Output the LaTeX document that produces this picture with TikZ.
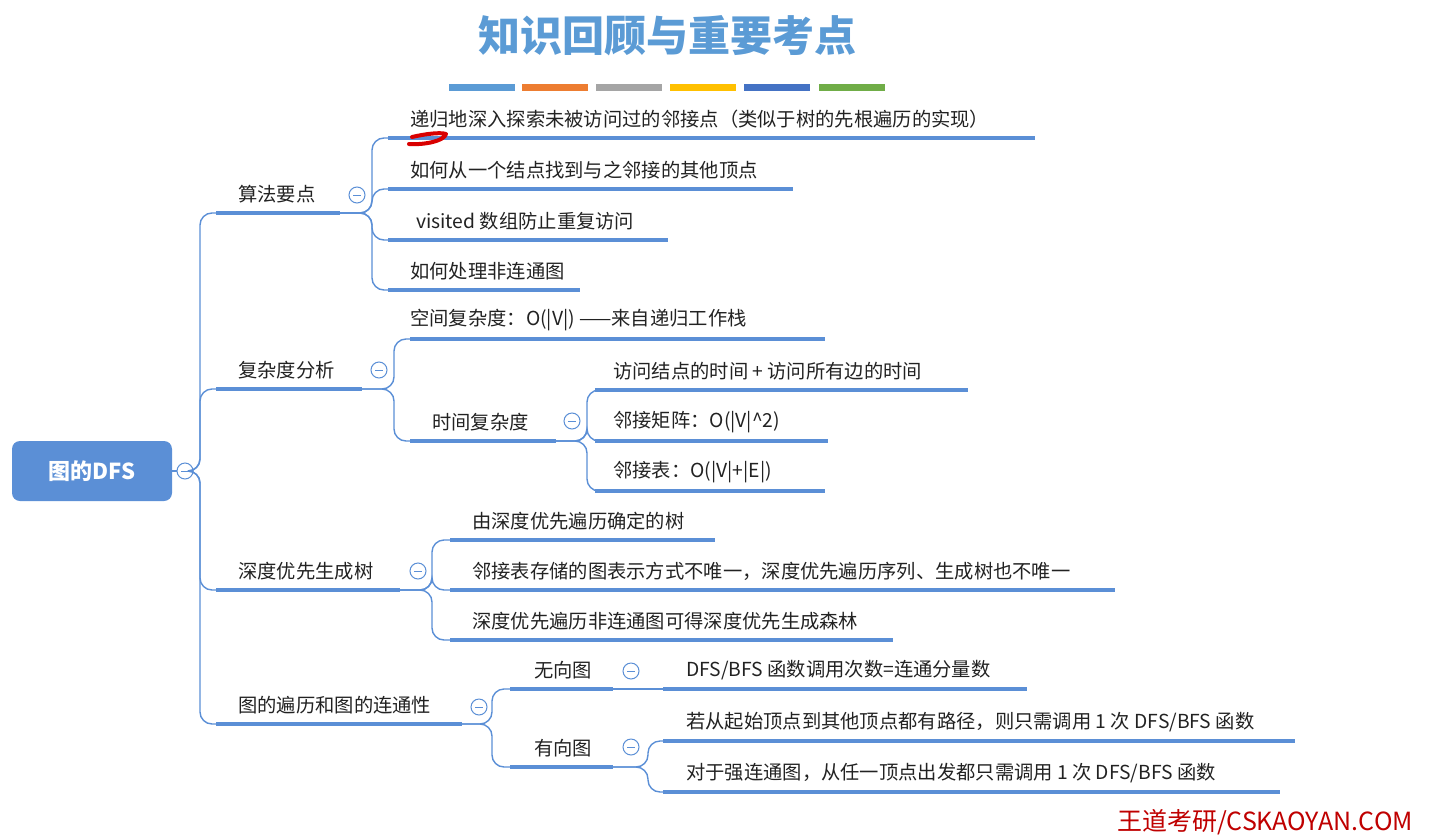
\documentclass[tikz,border=0pt]{standalone}
\usepackage{fontspec}
\setmainfont{Noto Sans CJK SC}
\begin{document}
\begin{tikzpicture}[x=1pt,y=-1pt]
\definecolor{tb}{HTML}{5B8FD6}
\definecolor{tt}{HTML}{222222}
\tikzset{
 ul/.style={draw=tb,line width=3.5pt},
 br/.style={draw=tb,line width=1.4pt,rounded corners=12pt},
 lbl/.style={anchor=west,text=tt,font=\fontsize{19.3}{22}\selectfont,inner sep=0pt},
 col/.style={circle,draw=tb,line width=1pt,fill=white,minimum size=16pt,inner sep=0pt,path picture={\draw[tb,line width=1pt] ([xshift=-4pt]path picture bounding box.center)--([xshift=4pt]path picture bounding box.center);}}
}
\useasboundingbox (0,0) rectangle (1429,838);
% title
\definecolor{ttl}{HTML}{5B9BD5}
\node[text=ttl,font=\fontsize{42}{46}\selectfont\bfseries] (title) at (667,36) {知识回顾与重要考点};
\foreach \a/\c in {449/5B9BD5,522/ED7D31,596/A5A5A5,670/FFC000,744/4472C4,819/70AD47}{
 \definecolor{bc}{HTML}{\c}\draw[bc,line width=7pt] (\a,87)--(\a+66,87);}
% root
\node[fill=tb,rounded corners=8pt,minimum width=160pt,minimum height=60pt,text=white,font=\fontsize{22}{24}\selectfont\bfseries] (root) at (92,471) {图的DFS};
\node[col] (rc) at (185,471) {};
\draw[tb,line width=1.4pt] (root.east)--(rc.west);
% helper
\newcommand\kid[8]{% from-coord, trunkx, uy, xs, xe, textx, text, name
 \coordinate (#8s) at (#4,#3); \coordinate (#8e) at (#5,#3);
 \draw[br] (#1) -| (#2,#3) -- (#8s);
 \draw[ul] (#8s)--(#8e);
 \node[lbl] (#8) at (#6,#3-19) {#7};}
\coordinate (r0) at (193,471);
\kid{r0}{200}{213}{216}{340}{238}{算法要点}{a}
\kid{r0}{200}{389}{216}{362}{238}{复杂度分析}{b}
\kid{r0}{200}{590}{216}{400}{238}{深度优先生成树}{c}
\kid{r0}{200}{724}{216}{462}{238}{图的遍历和图的连通性}{d}
\node[col] (ac) at (357,195) {};
\node[col] (bc) at (379,370) {};
\node[col] (cc) at (418,571) {};
\node[col] (dc) at (479,707) {};
% 算法要点
\kid{ae}{372}{138}{388}{1035}{410}{递归地深入探索未被访问过的邻接点（类似于树的先根遍历的实现）}{a1}
\kid{ae}{372}{189}{388}{793}{410}{如何从一个结点找到与之邻接的其他顶点}{a2}
\kid{ae}{372}{240}{388}{668}{416}{visited 数组防止重复访问}{a3}
\kid{ae}{372}{290}{388}{580}{410}{如何处理非连通图}{a4}
\draw[red!85!black,line width=4pt,line cap=round,line join=round] (412,137) .. controls (425,134) and (440,132) .. (446,134) .. controls (444,141) and (425,145) .. (409,144);
% 复杂度
\kid{be}{394}{339}{410}{825}{410}{空间复杂度：O(|V|) ——来自递归工作栈}{b1}
\kid{be}{394}{441}{410}{556}{432}{时间复杂度}{b2}
\node[col] (b2c) at (572,421) {};
\kid{b2e}{587}{390}{595}{968}{613}{访问结点的时间 + 访问所有边的时间}{b21}
\kid{b2e}{587}{441}{595}{828}{613}{邻接矩阵：O(|V|\^{}2)}{b22}
\kid{b2e}{587}{491}{595}{825}{613}{邻接表：O(|V|+|E|)}{b23}
% 生成树
\kid{ce}{432}{540}{450}{715}{472}{由深度优先遍历确定的树}{c1}
\kid{ce}{432}{590}{450}{1115}{472}{邻接表存储的图表示方式不唯一，深度优先遍历序列、生成树也不唯一}{c2}
\kid{ce}{432}{640}{450}{893}{472}{深度优先遍历非连通图可得深度优先生成森林}{c3}
% 连通性
\kid{de}{492}{689}{510}{613}{534}{无向图}{d1}
\kid{de}{492}{767}{510}{613}{534}{有向图}{d2}
\node[col] (d1c) at (631,671) {};
\node[col] (d2c) at (631,747) {};
\coordinate (d11s) at (663,689);
\draw[tb,line width=1.4pt] (d1e)--(d11s);
\draw[ul] (d11s)--(1027,689);
\node[lbl] (d11) at (686,670) {DFS/BFS 函数调用次数=连通分量数};
\kid{d2e}{648}{741}{663}{1295}{686}{若从起始顶点到其他顶点都有路径，则只需调用 1 次 DFS/BFS 函数}{d21}
\kid{d2e}{648}{792}{663}{1280}{686}{对于强连通图，从任一顶点出发都只需调用 1 次 DFS/BFS 函数}{d22}
\node[text=red!75!black,font=\fontsize{25}{28}\selectfont] (wm) at (1265,822) {王道考研/CSKAOYAN.COM};
\end{tikzpicture}
\end{document}
